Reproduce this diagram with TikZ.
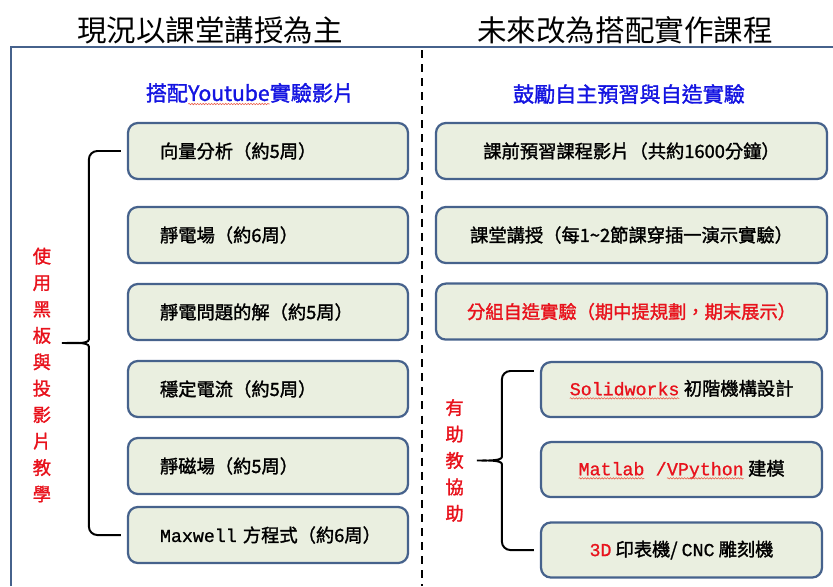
\documentclass[tikz,border=0pt]{standalone}
\usepackage{fontspec}
\setmainfont{Noto Sans CJK TC}
\newfontfamily\cjkbold{Noto Sans CJK TC}[FakeBold=1.5]
\setmonofont{Liberation Mono}[FakeBold=1]
\usetikzlibrary{calc, positioning, decorations.pathmorphing}

\definecolor{frameblue}{RGB}{70,98,140}
\definecolor{boxfill}{RGB}{234,239,224}
\definecolor{headblue}{RGB}{20,20,225}
\definecolor{notered}{RGB}{232,18,28}
\definecolor{squigred}{RGB}{235,90,70}

% wavy spell-check underline
\newcommand{\squig}[1]{\tikz[baseline=(w.base)]{\node[inner sep=0pt, outer sep=0pt, draw=none, fill=none,
    minimum width=0pt, minimum height=0pt] (w) {#1};
    \draw[squigred, line width=0.4pt, sharp corners, decorate, decoration={snake, amplitude=0.5pt, segment length=2pt}]
    ($(w.base west)+(0,-2.2pt)$) -- ($(w.base east)+(0,-2.2pt)$);}}

\tikzstyle{box} = [draw=frameblue, line width=1.6pt, fill=boxfill, rounded corners=7pt, minimum height=1.4cm, font=\cjkbold\fontsize{13}{15}\selectfont]
\tikzstyle{leftbox} = [box, text width=6.2cm, inner xsep=0.4cm, align=left, execute at begin node=\hspace*{0.4cm}]
\tikzstyle{rightbox} = [box, minimum width=9.775cm, align=center]
\tikzstyle{toolbox} = [box, minimum width=7.025cm, minimum height=1.375cm]
\tikzstyle{bracket} = [draw, line width=1.4pt, rounded corners=6pt]
\tikzstyle{redtext} = [text=notered, align=center, font=\cjkbold\fontsize{13}{18.8}\selectfont]
\tikzstyle{subhead} = [text=headblue, font=\cjkbold\fontsize{15}{17}\selectfont]
\tikzstyle{heading} = [font=\fontsize{21}{25}\selectfont]

\begin{document}
\begin{tikzpicture}
\useasboundingbox (0,0) rectangle (20.825,-14.65);

% Draw frame and dashed divider
\draw[frameblue, line width=1.8pt] (0.28,-14.65) |- (20.825,-1.175);
\draw[line width=1.4pt, dash pattern=on 5.7pt off 4.3pt] (10.55,-1.25) -- (10.55,-14.65);

% Put in headings
\node[heading] (headL) at (5.25,-0.75) {現況以課堂講授為主};
\node[heading] (headR) at (15.625,-0.75) {未來改為搭配實作課程};
\node[subhead] (subL) at (6.25,-2.35) {搭配\squig{Youtube}實驗影片};
\node[subhead] (subR) at (15.725,-2.35) {鼓勵自主預習與自造實驗};

% Left column: chapters
\foreach \n/\y/\txt in {1/-3.775/{向量分析（約5周）},
                        2/-5.875/{靜電場（約6周）},
                        3/-7.8/{靜電問題的解（約5周）},
                        4/-9.725/{穩定電流（約5周）},
                        5/-11.65/{靜磁場（約5周）},
                        6/-13.375/{\texttt{Maxwell} 方程式（約6周）}}
    \node[leftbox] (L\n) at (6.7,\y) {\txt};

% Right column: new course parts
\foreach \n/\y/\txt in {1/-3.775/{課前預習課程影片（共約1600分鐘）},
                        2/-5.875/{課堂講授（每1\textasciitilde2節課穿插一演示實驗）},
                        3/-7.79/{\textcolor{notered}{分組自造實驗（期中提規劃，期末展示）}}}
    \node[rightbox] (R\n) at (15.7875,\y) {\txt};

% Tools
\node[toolbox] (R4) at (17.0375,-9.74) {\textcolor{notered}{\texttt{\squig{Solidworks}}} 初階機構設計};
\node[toolbox] (R5) at (17.0375,-11.74) {\textcolor{notered}{\texttt{\squig{Matlab} /\squig{VPython}}} 建模};
\node[toolbox] (R6) at (17.0375,-13.75) {\textcolor{notered}{\texttt{3D}} 印表機/ \texttt{CNC} 雕刻機};

% Braces
\coordinate (tipL) at ($(L1.west)!0.5!(L6.west)+(-1.75,0)$);
\draw[bracket] ($(L1.west)+(-0.15,0)$) -| ($(tipL)+(0.8,0.3)$) to[out=-90,in=0] (tipL)
    to[out=0,in=90] ($(tipL)+(0.8,-0.3)$) |- ($(L6.west)+(-0.15,0)$);

\coordinate (topR) at ($(R4.north west)+(-0.15,-0.25)$);
\coordinate (botR) at ($(R6.west)+(-0.15,0)$);
\coordinate (tipR) at ($(topR)!0.5!(botR)+(-1.55,0)$);
\draw[bracket] (topR) -| ($(tipR)+(0.75,0.3)$) to[out=-90,in=0] (tipR)
    to[out=0,in=90] ($(tipR)+(0.75,-0.3)$) |- (botR);

% Vertical red labels
\node[redtext] (useL) at ($(tipL)+(-0.375,-0.8)$) {使\\用\\黑\\板\\與\\投\\影\\片\\教\\學};
\node[redtext, left=0.08cm of tipR] (helpR) {有\\助\\教\\協\\助};

\end{tikzpicture}
\end{document}
